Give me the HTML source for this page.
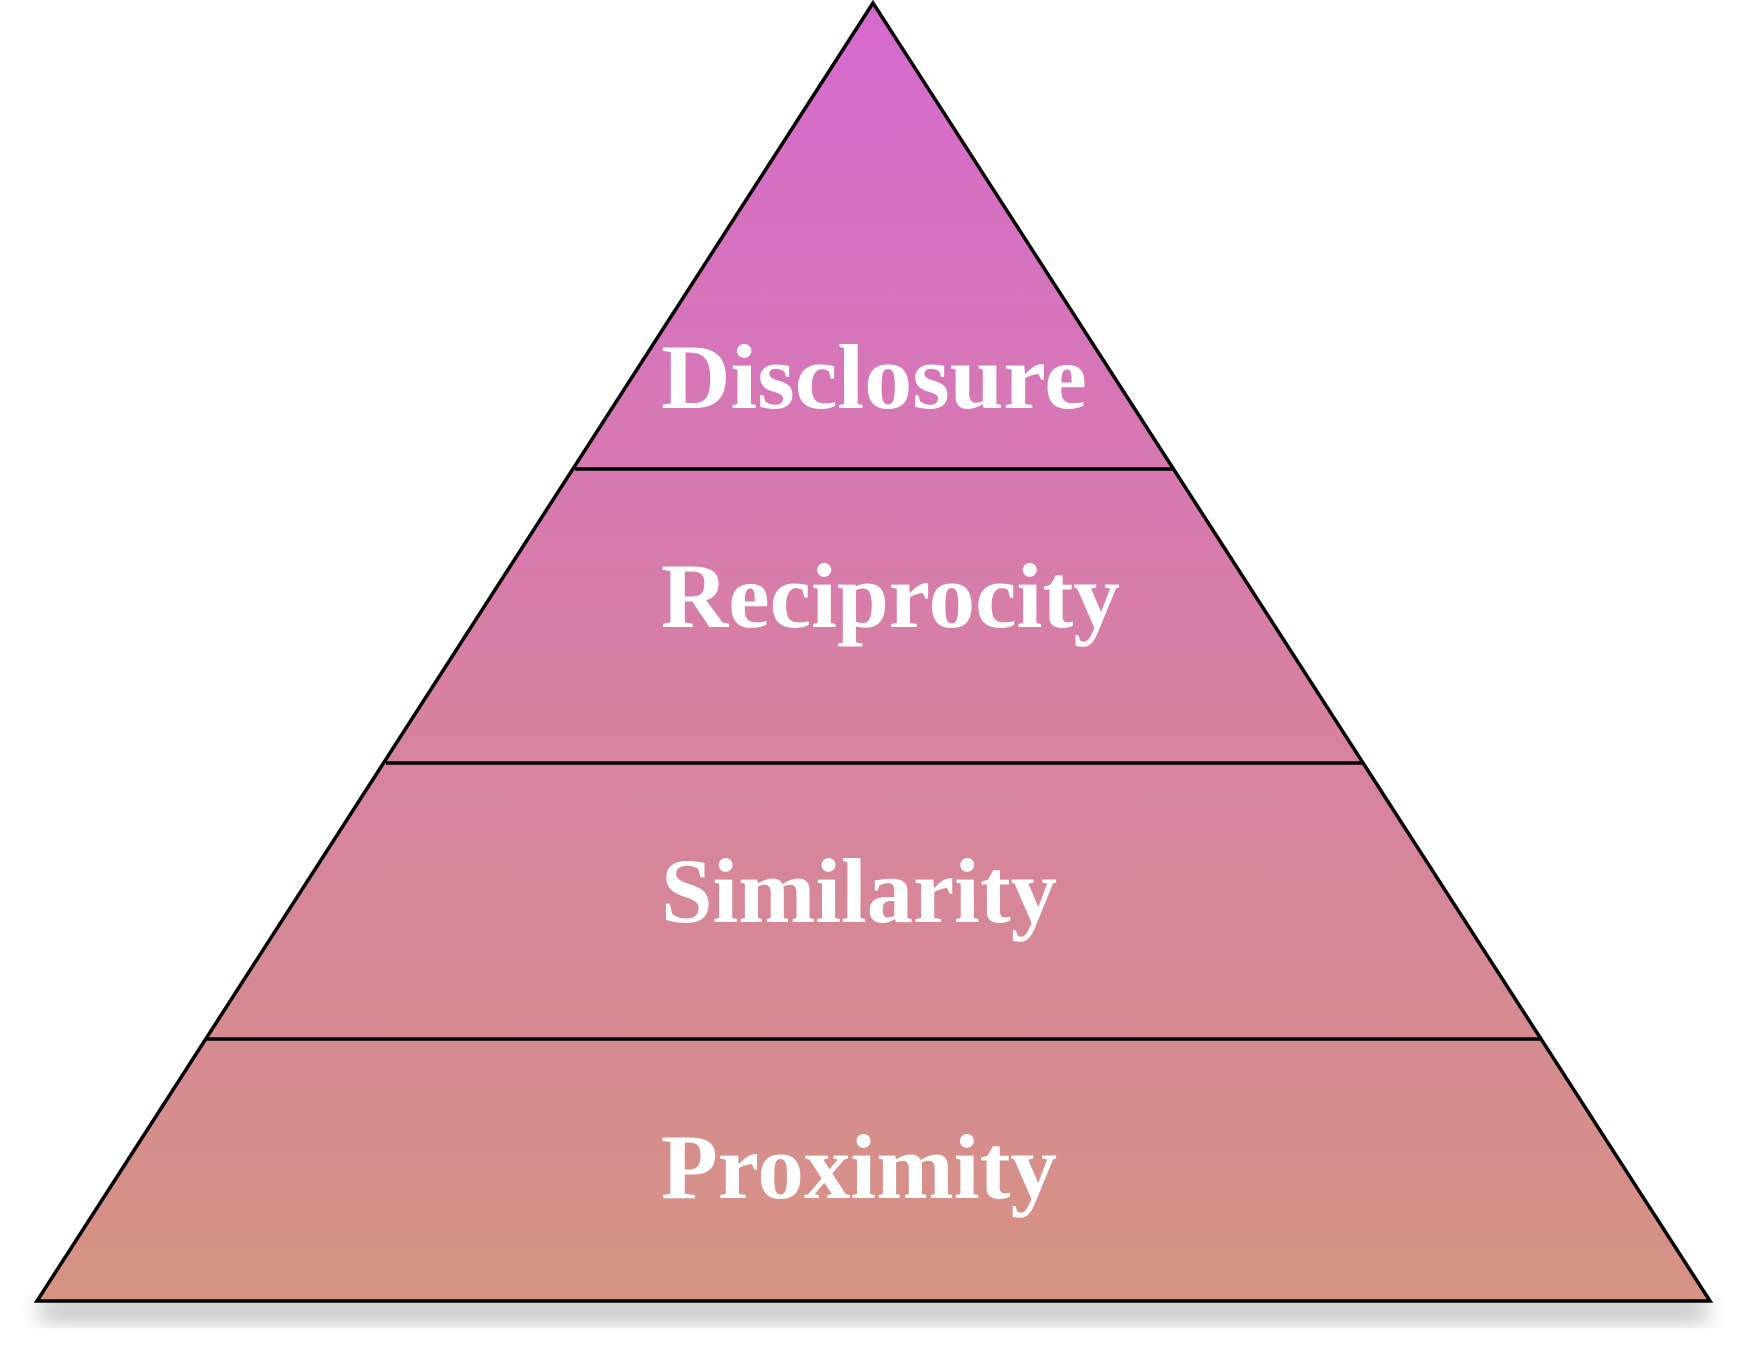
<!DOCTYPE html>
<html><head><meta charset="utf-8"><style>
html,body{margin:0;padding:0;background:#fff;}
svg{display:block;}
</style></head><body>
<svg width="1756" height="1348" viewBox="0 0 1756 1348" xmlns="http://www.w3.org/2000/svg">
<defs>
<linearGradient id="g" x1="0" y1="0" x2="0" y2="1">
<stop offset="0" stop-color="#d66acf"/>
<stop offset="0.5" stop-color="#d77fa5"/>
<stop offset="1" stop-color="#d69383"/>
</linearGradient>
<filter id="sh" x="-10%" y="-10%" width="120%" height="130%">
<feGaussianBlur stdDeviation="10"/>
</filter>
</defs>
<rect x="40" y="1297" width="1668" height="26" fill="#bbb" filter="url(#sh)" opacity="0.8"/>
<polygon points="873,3 37,1301 1710,1301" fill="url(#g)" stroke="#000" stroke-width="3.5" stroke-linejoin="miter"/>
<line x1="575" y1="469" x2="1175" y2="469" stroke="#000" stroke-width="3.5"/>
<line x1="386" y1="763" x2="1362" y2="763" stroke="#000" stroke-width="3.5"/>
<line x1="205" y1="1039" x2="1540" y2="1039" stroke="#000" stroke-width="3.5"/>
<g font-family="'Liberation Serif', serif" font-weight="bold" font-size="92" fill="#fff">
<text x="661" y="408" textLength="426" lengthAdjust="spacingAndGlyphs">Disclosure</text>
<text x="661" y="627" textLength="459" lengthAdjust="spacingAndGlyphs">Reciprocity</text>
<text x="661" y="922" textLength="396" lengthAdjust="spacingAndGlyphs">Similarity</text>
<text x="661" y="1198" textLength="396" lengthAdjust="spacingAndGlyphs">Proximity</text>
</g>
</svg>
</body></html>
